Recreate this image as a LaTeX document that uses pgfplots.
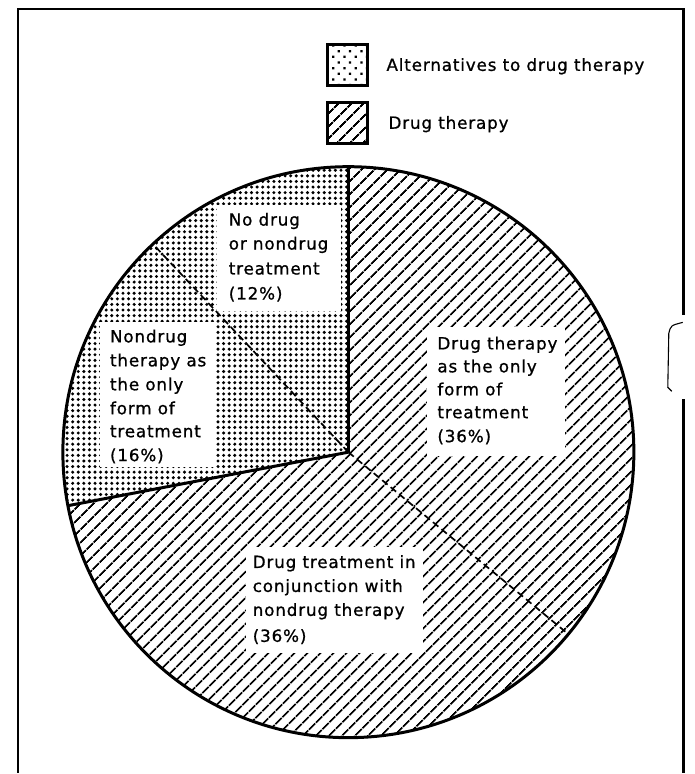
\documentclass[border=0pt]{standalone}
\usepackage{pgfplots}
\pgfplotsset{compat=1.18}
\usepackage{pgfplotstable}
\usetikzlibrary{patterns.meta}
\usepackage{fontspec}
\setmainfont{DejaVu Sans}[LetterSpace=5, FakeBold=0.9]

% share (%) of each slice, counter-clockwise from 12 o'clock
\pgfplotstableread{
share pat edge
12 dots dashed
16 dots solid
36 lines dashed
36 lines solid
}\slices

\tikzset{
  pat dots/.style={pattern={Dots[radius=1.7bp, distance=5.6bp]}, pattern color=black},
  pat legdots/.style={pattern={Dots[radius=1.6bp, distance=8bp, angle=45]}, pattern color=black},
  pat lines/.style={pattern={Lines[angle=45, distance=9.5bp, line width=2.1bp]}, pattern color=black},
  edge dashed/.style={line width=1.7bp, dash pattern=on 7bp off 4bp},
  edge solid/.style={line width=3bp},
  lab/.style={anchor=base west, inner sep=0pt, font=\fontsize{16.8bp}{24bp}\selectfont},
}
\newcommand\cx{349}
\newcommand\cy{321}
\newcommand\rr{286}

\begin{document}
\begin{tikzpicture}
\begin{axis}[x=1bp, y=1bp, xmin=0, xmax=696, ymin=0, ymax=774,
  hide axis, clip=false, disabledatascaling]
\path (axis cs:0,0) (axis cs:696,774);
\pgfplotstablegetrowsof{\slices}
\pgfmathtruncatemacro\nrows{\pgfplotsretval-1}
% slices
\def\cum{90}
\pgfplotsforeachungrouped \i in {0,...,\nrows}{%
  \pgfplotstablegetelem{\i}{share}\of\slices
  \pgfmathsetmacro\aa{\cum}%
  \pgfmathsetmacro\bb{\cum+3.6*\pgfplotsretval}%
  \pgfplotstablegetelem{\i}{pat}\of\slices
  \edef\pp{\pgfplotsretval}%
  \edef\temp{\noexpand\fill[pat \pp] (axis cs:\cx,\cy) -- ++(\aa:\rr bp) arc[start angle=\aa, end angle=\bb, radius=\rr bp] -- cycle;}%
  \temp
  \global\let\cum\bb
}
% edges
\def\cum{90}
\pgfplotsforeachungrouped \i in {0,...,\nrows}{%
  \pgfplotstablegetelem{\i}{share}\of\slices
  \pgfmathsetmacro\bb{\cum+3.6*\pgfplotsretval}%
  \pgfplotstablegetelem{\i}{edge}\of\slices
  \edef\ee{\pgfplotsretval}%
  \edef\temp{\noexpand\draw[edge \ee] (axis cs:\cx,\cy) -- ++(\bb:\rr bp);}%
  \temp
  \global\let\cum\bb
}
\draw[line width=3bp] (axis cs:\cx,\cy) circle[radius=\rr bp];

% label boxes
\fill[white] (axis cs:217,462) rectangle (axis cs:342,569);
\fill[white] (axis cs:100,306) rectangle (axis cs:215,451);
\fill[white] (axis cs:428,317) rectangle (axis cs:566,446);
\fill[white] (axis cs:246,120) rectangle (axis cs:424,226);

\node[lab] at (axis cs:229,548) {No drug};
\node[lab] at (axis cs:229,524) {or nondrug};
\node[lab] at (axis cs:229,499) {treatment};
\node[lab] at (axis cs:229,474) {(12\%)};

\node[lab] at (axis cs:110,431) {Nondrug};
\node[lab] at (axis cs:110,407) {therapy as};
\node[lab] at (axis cs:110,383) {the only};
\node[lab] at (axis cs:110,359) {form of};
\node[lab] at (axis cs:110,336) {treatment};
\node[lab] at (axis cs:110,312) {(16\%)};

\node[lab] at (axis cs:438,424) {Drug therapy};
\node[lab] at (axis cs:438,401) {as the only};
\node[lab] at (axis cs:438,378) {form of};
\node[lab] at (axis cs:438,355) {treatment};
\node[lab] at (axis cs:438,331) {(36\%)};

\node[lab] at (axis cs:253,205) {Drug treatment in};
\node[lab] at (axis cs:253,181) {conjunction with};
\node[lab] at (axis cs:253,157) {nondrug therapy};
\node[lab] at (axis cs:253,131) {(36\%)};

% legend
\draw[pat legdots, line width=3bp] (axis cs:328,688) rectangle (axis cs:368,729);
\draw[pat lines, line width=3bp] (axis cs:328,630) rectangle (axis cs:368,671);
\node[lab] at (axis cs:387,703) {Alternatives to drug therapy};
\node[lab] at (axis cs:389,645) {Drug therapy};

% frame
\draw[line width=2.8bp] (axis cs:18,0) -- (axis cs:18,765) -- (axis cs:685,765) -- (axis cs:685,458);
\draw[line width=2.8bp] (axis cs:685,374) -- (axis cs:685,0);
\draw[line width=1.1bp] (axis cs:684,451) .. controls (axis cs:672,448) .. (axis cs:670,440) -- (axis cs:669,386) -- (axis cs:673,382);
\end{axis}
\end{tikzpicture}
\end{document}
